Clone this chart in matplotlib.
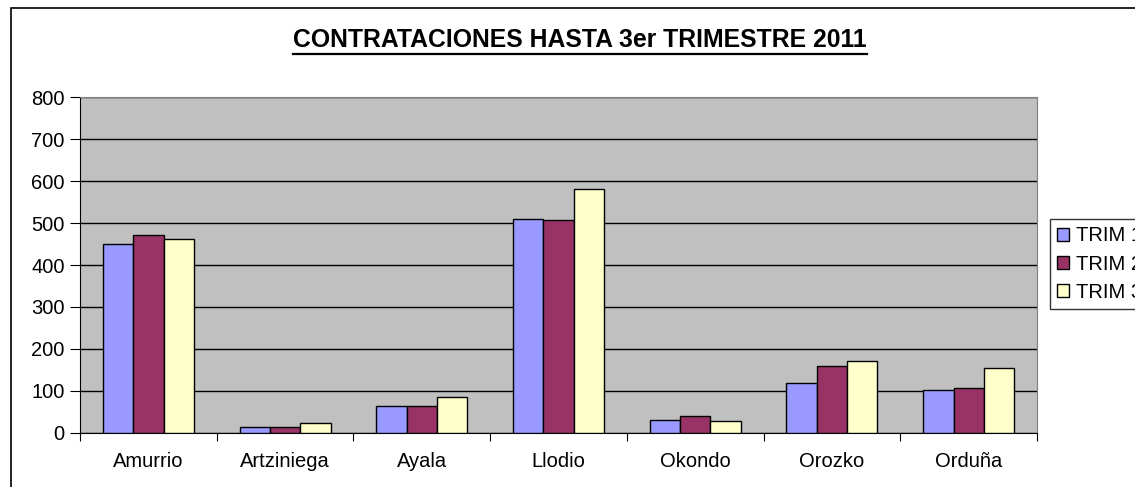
import matplotlib.pyplot as plt
import numpy as np
from matplotlib.patches import Rectangle
from matplotlib.lines import Line2D

plt.rcParams['font.family'] = ['Liberation Sans', 'DejaVu Sans']

municipios = ['Amurrio', 'Artziniega', 'Ayala', 'Llodio', 'Okondo', 'Orozko', 'Orduña']
trim1 = [450, 15, 64, 510, 32, 120, 102]
trim2 = [471, 15, 64, 507, 40, 159, 107]
trim3 = [462, 24, 86, 581, 29, 171, 155]
series = ['TRIM 1', 'TRIM 2', 'TRIM 3']
colores = ['#9999FF', '#993366', '#FFFFCC']

fig = plt.figure(figsize=(11.35, 4.87), dpi=100)
ax = fig.add_axes([0.0705, 0.1109, 0.9137 - 0.0705, 0.8008 - 0.1109])

# outer chart border (cut off at right and bottom like the original)
fig.patches.append(Rectangle((11 / 1135, -0.2), 1.5, 1 - 8 / 487 + 0.2,
                             transform=fig.transFigure, fill=False,
                             edgecolor='black', linewidth=1.2))

x = np.arange(len(municipios))
w = 0.222
for i, (vals, lab, col) in enumerate(zip([trim1, trim2, trim3], series, colores)):
    ax.bar(x + (i - 1) * w, vals, width=w, color=col, edgecolor='black',
           linewidth=1, label=lab, zorder=3)

ax.set_facecolor('#C0C0C0')
ax.set_xlim(-0.5, len(municipios) - 0.5)
ax.set_ylim(0, 800)
ax.set_yticks(range(0, 801, 100))
ax.yaxis.grid(True, color='black', linewidth=1)
ax.set_axisbelow(True)

ax.set_xticks(np.arange(-0.5, len(municipios), 1))
ax.set_xticklabels([])
ax.set_xticks(x, minor=True)
ax.set_xticklabels(municipios, minor=True)
ax.tick_params(axis='x', which='minor', length=0, pad=14, labelsize=14.5)
ax.tick_params(axis='x', which='major', length=6, direction='out', color='black')
ax.tick_params(axis='y', length=7, direction='out', labelsize=14.5, pad=4)

for s in ['top', 'right']:
    ax.spines[s].set_color('#808080')
for s in ['left', 'bottom']:
    ax.spines[s].set_color('black')

leg = ax.legend(loc='center left', bbox_to_anchor=(1050 / 1135, 1 - 264 / 487),
                bbox_transform=fig.transFigure, frameon=True, fancybox=False,
                edgecolor='black', fontsize=14.5, handlelength=0.6, handleheight=0.6,
                handletextpad=0.35, borderpad=0.35, labelspacing=0.45,
                borderaxespad=0)
leg.get_frame().set_linewidth(1)

titulo = fig.text(0.511, 1 - 40 / 487, 'CONTRATACIONES HASTA 3er TRIMESTRE 2011',
                  ha='center', va='center', fontsize=17.8, fontweight='bold')
fig.canvas.draw()
bb = titulo.get_window_extent().transformed(fig.transFigure.inverted())
fig.lines.append(Line2D([bb.x0, bb.x1], [bb.y0 - 0.004, bb.y0 - 0.004],
                        transform=fig.transFigure, color='black', linewidth=1.6))

fig.savefig('out.png', dpi=100)
